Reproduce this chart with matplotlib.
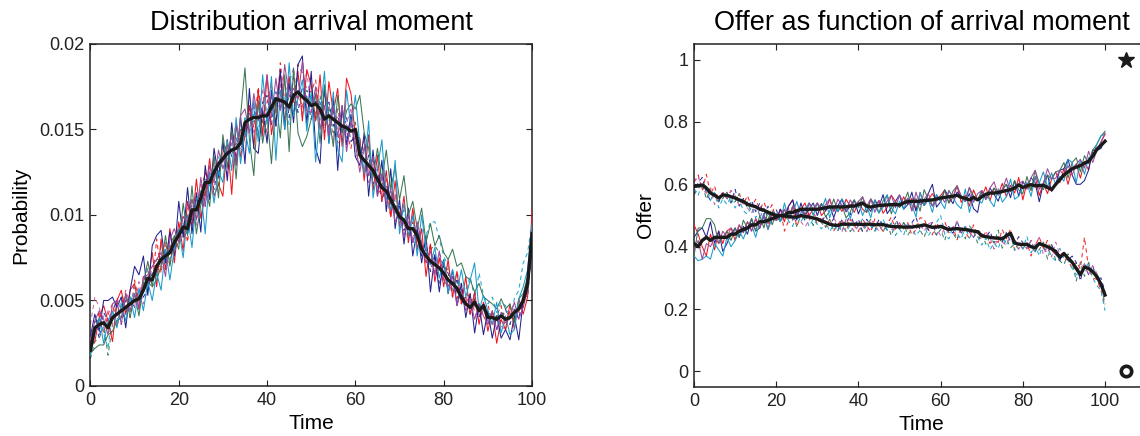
import numpy as np
import matplotlib
matplotlib.use("Agg")
import matplotlib.pyplot as plt

plt.rcParams["font.family"] = ["Liberation Sans", "DejaVu Sans"]

time = np.arange(101)

# ---------------------------------------------------------------
# Arrival-moment distribution (probability values stored in 1e-4)
# ---------------------------------------------------------------
arrival_mean = [
    21, 34, 36, 37, 34, 40, 42, 44, 46, 48,
    50, 51, 56, 63, 62, 70, 74, 76, 78, 84,
    88, 93, 92, 103, 103, 110, 119, 119, 125, 130,
    133, 136, 138, 139, 142, 154, 156, 157, 157, 158,
    158, 163, 168, 167, 166, 163, 170, 172, 169, 167,
    164, 165, 162, 156, 158, 156, 154, 152, 151, 149,
    150, 135, 132, 129, 126, 121, 116, 114, 109, 104,
    99, 97, 92, 92, 88, 80, 76, 73, 71, 69,
    66, 62, 60, 57, 52, 48, 46, 49, 44, 47,
    40, 40, 39, 41, 39, 40, 43, 45, 50, 60,
    89]

arrival_red = [
    23, 26, 40, 47, 38, 26, 50, 56, 42, 56,
    60, 45, 64, 61, 78, 58, 86, 68, 92, 72,
    96, 79, 108, 93, 121, 98, 111, 133, 111, 118,
    111, 144, 112, 153, 134, 146, 164, 139, 173, 146,
    182, 147, 164, 183, 154, 181, 166, 184, 155, 185,
    176, 155, 182, 144, 178, 160, 174, 140, 180, 171,
    146, 145, 120, 147, 114, 135, 108, 126, 99, 120,
    93, 111, 84, 104, 80, 92, 64, 83, 61, 75,
    58, 74, 52, 67, 48, 64, 42, 55, 36, 49,
    32, 44, 25, 39, 33, 48, 33, 51, 42, 52,
    103]

arrival_navy = [
    29, 42, 32, 50, 50, 52, 46, 52, 34, 56,
    70, 65, 76, 53, 82, 88, 91, 72, 90, 76,
    108, 87, 116, 89, 113, 90, 129, 109, 139, 122,
    143, 120, 154, 129, 158, 130, 174, 139, 136, 162,
    142, 173, 152, 185, 150, 177, 154, 188, 193, 153,
    184, 139, 130, 176, 142, 168, 126, 164, 141, 159,
    134, 129, 148, 111, 138, 111, 132, 102, 127, 92,
    109, 83, 104, 76, 92, 72, 88, 55, 77, 55,
    74, 54, 68, 47, 60, 40, 54, 31, 48, 30,
    44, 28, 41, 28, 33, 27, 41, 27, 50, 56,
    80]

arrival_green = [
    19, 22, 24, 24, 30, 32, 38, 40, 54, 40,
    54, 41, 60, 73, 58, 62, 70, 88, 70, 88,
    80, 107, 88, 117, 89, 106, 117, 105, 135, 110,
    147, 128, 150, 121, 158, 186, 144, 123, 167, 142,
    158, 130, 168, 145, 182, 137, 186, 148, 140, 146,
    156, 171, 142, 176, 158, 140, 170, 148, 161, 165,
    162, 170, 148, 139, 122, 139, 120, 138, 115, 128,
    109, 123, 100, 108, 92, 104, 84, 95, 82, 88,
    78, 74, 80, 70, 72, 64, 62, 55, 60, 52,
    50, 48, 45, 51, 45, 48, 37, 51, 54, 64,
    88]

arrival_teal = [
    18, 30, 40, 25, 38, 44, 34, 48, 38, 52,
    40, 57, 44, 61, 50, 66, 56, 80, 62, 80,
    92, 75, 100, 81, 109, 114, 89, 125, 107, 126,
    119, 144, 126, 157, 130, 150, 136, 167, 143, 182,
    154, 181, 132, 173, 150, 189, 158, 168, 179, 149,
    172, 131, 158, 184, 142, 172, 138, 131, 173, 151,
    170, 141, 124, 155, 110, 127, 144, 110, 103, 132,
    89, 107, 88, 100, 76, 100, 80, 71, 81, 63,
    74, 54, 68, 55, 68, 52, 62, 72, 44, 53,
    44, 36, 49, 31, 41, 30, 33, 51, 58, 68,
    95]

arrival_purple = [
    27, 38, 44, 39, 30, 48, 50, 36, 54, 44,
    54, 45, 64, 65, 70, 74, 78, 64, 86, 92,
    84, 99, 96, 109, 97, 122, 105, 129, 119, 138,
    127, 136, 146, 129, 158, 162, 148, 171, 155, 162,
    182, 157, 180, 161, 188, 169, 174, 168, 190, 161,
    160, 175, 150, 164, 146, 164, 146, 164, 137, 155,
    142, 125, 140, 123, 134, 111, 124, 106, 115, 96,
    101, 87, 100, 84, 96, 84, 72, 79, 65, 79,
    62, 58, 64, 47, 56, 44, 50, 39, 48, 41,
    36, 44, 33, 43, 37, 40, 49, 39, 46, 56,
    86]

arrival_red_d = [
    31, 30, 44, 31, 42, 48, 34, 48, 54, 40,
    62, 49, 60, 69, 58, 86, 66, 84, 70, 88,
    92, 99, 84, 109, 97, 114, 125, 109, 131, 118,
    139, 124, 150, 133, 150, 146, 164, 151, 175, 154,
    166, 177, 152, 189, 166, 181, 158, 188, 183, 173,
    172, 179, 158, 172, 150, 168, 142, 160, 149, 139,
    154, 133, 144, 123, 134, 115, 112, 122, 99, 112,
    101, 95, 88, 96, 84, 84, 72, 83, 65, 75,
    70, 58, 64, 51, 60, 48, 54, 43, 40, 45,
    48, 36, 41, 47, 33, 44, 37, 47, 46, 64,
    92]

arrival_navy_d = [
    23, 38, 28, 43, 38, 44, 50, 36, 50, 52,
    46, 57, 52, 57, 66, 66, 82, 72, 82, 80,
    84, 91, 100, 97, 109, 106, 113, 125, 115, 130,
    131, 144, 134, 145, 138, 146, 160, 163, 147, 166,
    170, 153, 172, 161, 178, 157, 182, 160, 175, 169,
    156, 167, 166, 148, 166, 152, 158, 148, 157, 143,
    146, 141, 124, 135, 118, 127, 108, 118, 107, 100,
    105, 91, 96, 84, 92, 76, 80, 67, 77, 59,
    70, 66, 52, 63, 48, 52, 42, 51, 40, 49,
    36, 44, 33, 39, 45, 36, 45, 39, 54, 52,
    84]

arrival_green_d = [
    16, 26, 28, 35, 18, 36, 46, 40, 42, 52,
    50, 53, 60, 61, 58, 74, 74, 68, 82, 88,
    92, 87, 96, 97, 105, 114, 113, 121, 123, 126,
    131, 140, 142, 141, 150, 150, 152, 155, 163, 154,
    154, 169, 164, 173, 162, 169, 166, 172, 163, 173,
    168, 159, 170, 152, 162, 148, 162, 148, 149, 155,
    154, 137, 136, 131, 126, 123, 120, 110, 111, 108,
    97, 103, 92, 88, 88, 84, 80, 80, 82, 78,
    70, 68, 58, 62, 56, 54, 52, 50, 48, 44,
    44, 40, 41, 43, 41, 44, 41, 47, 50, 60,
    88]

arrival_cyan_d = [
    19, 34, 40, 31, 22, 44, 38, 52, 42, 44,
    58, 45, 56, 69, 62, 66, 78, 80, 74, 84,
    88, 95, 88, 105, 101, 106, 121, 117, 127, 134,
    127, 132, 142, 145, 134, 158, 148, 159, 163, 150,
    162, 161, 172, 161, 170, 153, 170, 180, 159, 169,
    168, 155, 166, 160, 150, 160, 150, 160, 145, 155,
    150, 145, 124, 123, 134, 119, 120, 106, 115, 96,
    101, 99, 84, 100, 80, 92, 88, 96, 96, 86,
    76, 70, 56, 67, 56, 56, 64, 51, 66, 53,
    48, 52, 43, 49, 47, 40, 51, 56, 72, 78,
    96]

arrival_pink_d = [
    36, 52, 46, 35, 44, 36, 52, 44, 56, 48,
    46, 61, 48, 57, 70, 70, 70, 84, 78, 80,
    84, 91, 104, 101, 93, 118, 105, 121, 119, 122,
    143, 128, 142, 153, 146, 146, 164, 147, 159, 174,
    146, 169, 160, 177, 162, 177, 186, 164, 163, 185,
    160, 171, 154, 164, 166, 144, 162, 144, 153, 163,
    134, 137, 132, 119, 130, 115, 124, 110, 99, 112,
    97, 95, 96, 84, 92, 80, 84, 71, 69, 67,
    62, 62, 56, 55, 52, 52, 42, 47, 48, 41,
    40, 36, 41, 35, 33, 40, 45, 43, 50, 60,
    86]

# ---------------------------------------------------------------
# Offer as a function of arrival moment
# ---------------------------------------------------------------
offer_up_mean = [
    .41, .40, .42, .43, .42, .43, .43, .43, .43, .44,
    .44, .45, .455, .46, .47, .47, .48, .48, .485, .49,
    .495, .50, .50, .51, .51, .515, .52, .52, .52, .52,
    .52, .522, .525, .527, .527, .528, .527, .528, .53, .53,
    .535, .54, .53, .527, .53, .532, .533, .534, .535, .535,
    .534, .54, .545, .545, .545, .546, .548, .549, .55, .553,
    .556, .558, .56, .562, .565, .558, .555, .55, .558, .55,
    .56, .568, .572, .572, .574, .577, .58, .583, .588, .598,
    .59, .595, .599, .595, .596, .597, .59, .583, .60, .615,
    .63, .64, .65, .655, .66, .668, .674, .69, .712, .725,
    .738]

offer_up_red = [
    .47, .44, .40, .37, .44, .39, .45, .41, .45, .46,
    .42, .47, .445, .48, .45, .49, .46, .50, .455, .51,
    .485, .52, .48, .53, .55, .505, .52, .54, .50, .52,
    .54, .50, .515, .553, .513, .532, .513, .552, .53, .51,
    .545, .52, .51, .553, .53, .548, .507, .526, .565, .545,
    .526, .56, .535, .555, .515, .574, .532, .551, .57, .547,
    .564, .582, .54, .558, .595, .542, .565, .53, .582, .55,
    .56, .592, .548, .588, .566, .603, .56, .597, .572, .622,
    .55, .605, .581, .625, .564, .603, .57, .617, .64, .605,
    .65, .60, .65, .665, .62, .672, .646, .71, .708, .735,
    .76]

offer_up_navy = [
    .43, .45, .46, .43, .48, .41, .45, .385, .41, .44,
    .46, .43, .465, .44, .49, .45, .46, .50, .475, .51,
    .485, .52, .50, .53, .55, .485, .54, .50, .52, .54,
    .50, .538, .515, .533, .493, .532, .553, .512, .53, .55,
    .505, .54, .53, .513, .55, .528, .567, .506, .525, .545,
    .566, .52, .535, .575, .515, .554, .532, .571, .60, .527,
    .544, .582, .56, .538, .575, .562, .545, .57, .522, .51,
    .58, .552, .588, .568, .546, .583, .60, .557, .612, .562,
    .61, .585, .621, .605, .544, .603, .63, .577, .60, .645,
    .65, .68, .63, .60, .60, .612, .646, .71, .708, .715,
    .742]

offer_up_green = [
    .37, .46, .46, .49, .49, .47, .41, .43, .45, .42,
    .46, .43, .485, .46, .49, .45, .50, .46, .515, .47,
    .505, .48, .52, .49, .53, .505, .52, .50, .54, .52,
    .52, .538, .495, .513, .553, .512, .533, .492, .51, .55,
    .525, .56, .51, .553, .53, .508, .547, .566, .505, .545,
    .526, .54, .575, .515, .555, .514, .583, .551, .53, .567,
    .544, .582, .54, .578, .595, .562, .545, .59, .562, .55,
    .58, .552, .568, .588, .566, .583, .60, .577, .612, .582,
    .57, .625, .581, .645, .604, .583, .63, .617, .64, .645,
    .67, .62, .67, .685, .64, .692, .666, .71, .728, .755,
    .77]

offer_up_teal = [
    .37, .355, .36, .37, .36, .41, .39, .37, .43, .40,
    .42, .45, .425, .46, .47, .43, .48, .50, .455, .49,
    .505, .48, .54, .49, .51, .545, .50, .52, .54, .50,
    .54, .518, .555, .493, .533, .512, .553, .532, .49, .53,
    .545, .50, .53, .493, .55, .508, .527, .566, .525, .505,
    .546, .52, .555, .535, .495, .574, .532, .551, .51, .567,
    .544, .522, .58, .558, .535, .522, .585, .51, .562, .55,
    .54, .572, .548, .528, .586, .543, .56, .617, .552, .562,
    .59, .605, .561, .625, .604, .64, .59, .637, .60, .625,
    .61, .68, .67, .605, .68, .632, .686, .69, .728, .755,
    .762]

offer_up_purple = [
    .39, .42, .36, .41, .40, .43, .41, .45, .43, .46,
    .44, .47, .445, .48, .45, .49, .46, .50, .475, .51,
    .485, .50, .52, .49, .53, .505, .52, .50, .54, .52,
    .54, .518, .535, .553, .513, .552, .533, .512, .55, .53,
    .545, .56, .53, .553, .51, .548, .527, .546, .565, .525,
    .566, .54, .555, .515, .575, .534, .552, .571, .53, .547,
    .564, .542, .58, .558, .595, .562, .545, .59, .542, .57,
    .58, .552, .588, .608, .566, .583, .62, .577, .592, .602,
    .61, .585, .621, .645, .584, .603, .65, .617, .62, .645,
    .63, .66, .63, .665, .68, .652, .706, .67, .708, .735,
    .765]

offer_down_mean = [
    .593, .595, .598, .588, .572, .565, .556, .566, .565, .56,
    .556, .55, .545, .536, .532, .528, .52, .517, .51, .505,
    .50, .50, .498, .497, .495, .495, .50, .497, .495, .492,
    .489, .483, .478, .472, .469, .468, .472, .472, .472, .472,
    .472, .471, .472, .472, .47, .471, .471, .467, .465, .464,
    .464, .463, .463, .463, .465, .467, .47, .466, .462, .463,
    .465, .46, .455, .457, .458, .456, .455, .453, .45, .448,
    .435, .432, .43, .428, .427, .425, .435, .443, .412, .408,
    .407, .407, .40, .396, .41, .405, .40, .393, .385, .365,
    .378, .363, .35, .33, .31, .335, .33, .32, .305, .28,
    .245]

offer_down_red = [
    .607, .63, .582, .632, .568, .595, .544, .574, .555, .58,
    .544, .57, .535, .564, .528, .552, .52, .543, .51, .535,
    .48, .52, .45, .483, .525, .465, .50, .523, .485, .508,
    .471, .497, .462, .488, .451, .472, .488, .448, .488, .468,
    .448, .489, .468, .448, .49, .469, .449, .473, .495, .456,
    .476, .457, .477, .437, .455, .493, .49, .454, .438, .477,
    .455, .48, .445, .463, .422, .464, .445, .427, .47, .432,
    .425, .448, .41, .432, .413, .455, .425, .457, .388, .412,
    .393, .413, .37, .404, .43, .395, .42, .387, .375, .375,
    .362, .357, .33, .35, .33, .43, .33, .30, .295, .26,
    .21]

offer_down_navy = [
    .567, .605, .622, .572, .548, .575, .544, .574, .555, .54,
    .584, .53, .555, .524, .548, .512, .54, .503, .53, .495,
    .52, .48, .502, .523, .485, .505, .52, .483, .505, .488,
    .491, .477, .502, .468, .491, .452, .488, .468, .508, .468,
    .488, .449, .488, .468, .45, .489, .469, .453, .475, .496,
    .456, .477, .457, .477, .495, .453, .47, .454, .478, .437,
    .475, .46, .465, .443, .482, .444, .465, .447, .43, .452,
    .445, .428, .45, .412, .433, .415, .445, .417, .408, .432,
    .413, .393, .42, .384, .41, .395, .38, .407, .375, .355,
    .382, .357, .37, .35, .29, .345, .31, .34, .295, .30,
    .255]

offer_down_green = [
    .567, .585, .602, .552, .588, .555, .544, .554, .575, .54,
    .544, .57, .535, .544, .508, .532, .50, .523, .49, .515,
    .50, .48, .502, .483, .505, .465, .50, .483, .505, .468,
    .491, .477, .462, .488, .451, .472, .448, .488, .448, .468,
    .468, .449, .468, .488, .45, .469, .449, .473, .435, .476,
    .456, .477, .437, .457, .475, .453, .43, .474, .458, .437,
    .455, .42, .465, .443, .422, .464, .425, .467, .45, .412,
    .445, .408, .43, .412, .453, .395, .425, .397, .408, .392,
    .393, .413, .40, .384, .39, .415, .36, .407, .355, .355,
    .342, .377, .35, .29, .35, .305, .35, .32, .295, .28,
    .215]

offer_down_cyan = [
    .587, .565, .602, .592, .548, .575, .524, .554, .535, .56,
    .524, .55, .515, .504, .528, .492, .52, .483, .51, .475,
    .50, .48, .522, .483, .465, .505, .48, .503, .465, .488,
    .471, .457, .482, .448, .471, .452, .468, .448, .468, .448,
    .468, .489, .448, .468, .45, .469, .489, .453, .475, .436,
    .456, .437, .477, .457, .435, .453, .47, .434, .458, .477,
    .50, .44, .425, .463, .442, .424, .465, .427, .45, .432,
    .405, .428, .39, .412, .393, .435, .405, .437, .388, .412,
    .393, .433, .38, .404, .37, .415, .40, .367, .355, .395,
    .362, .357, .33, .31, .31, .325, .35, .30, .275, .26,
    .195]

offer_down_pink = [
    .607, .625, .582, .572, .588, .535, .564, .574, .555, .58,
    .564, .53, .555, .524, .508, .532, .50, .523, .51, .495,
    .48, .50, .482, .523, .485, .505, .48, .463, .485, .508,
    .491, .477, .482, .468, .491, .472, .448, .488, .468, .448,
    .468, .469, .448, .488, .47, .449, .469, .473, .455, .456,
    .476, .457, .457, .477, .455, .473, .45, .474, .478, .457,
    .435, .46, .445, .463, .482, .444, .465, .447, .43, .452,
    .425, .448, .43, .392, .433, .415, .405, .437, .428, .392,
    .413, .393, .42, .404, .43, .375, .40, .367, .415, .375,
    .382, .357, .35, .33, .33, .345, .31, .34, .315, .28,
    .235]

# Reference points at the right edge of the offer panel
marker_time = 105
star_offer = 1.0
circle_offer = 0.0

# ---------------------------------------------------------------
# Styling
# ---------------------------------------------------------------
solid_colors = ["#f0141e", "#22228f", "#3b7754", "#1a9bcc", "#9a4a9a"]
dashed_colors = ["#f02828", "#2e2ea6", "#3c8060", "#22a8d2", "#cc66a6"]
black = "#1a1a1a"
thin = 0.75
thick = 2.4
dash_pattern = (4, 3.5)

fig = plt.figure(figsize=(11.4, 4.36), dpi=100)
ax1 = fig.add_axes([0.0793, 0.1147, 0.3874, 0.7844])
ax2 = fig.add_axes([0.6088, 0.1124, 0.3991, 0.7867])

scale = 1e-4
solid_left = [arrival_red, arrival_navy, arrival_green, arrival_teal, arrival_purple]
dashed_left = [arrival_red_d, arrival_navy_d, arrival_green_d, arrival_cyan_d, arrival_pink_d]

for vals, col in zip(dashed_left, dashed_colors):
    ax1.plot(time, np.asarray(vals) * scale, color=col, lw=thin,
             dashes=dash_pattern, zorder=2)
for vals, col in zip(solid_left, solid_colors):
    ax1.plot(time, np.asarray(vals) * scale, color=col, lw=thin, zorder=3)
ax1.plot(time, np.asarray(arrival_mean) * scale, color=black, lw=thick, zorder=5)

solid_right = [offer_up_red, offer_up_navy, offer_up_green, offer_up_teal, offer_up_purple]
dashed_right = [offer_down_red, offer_down_navy, offer_down_green,
                offer_down_cyan, offer_down_pink]

for vals, col in zip(dashed_right, dashed_colors):
    ax2.plot(time, vals, color=col, lw=thin, dashes=dash_pattern, zorder=2)
for vals, col in zip(solid_right, solid_colors):
    ax2.plot(time, vals, color=col, lw=thin, zorder=3)
ax2.plot(time, offer_up_mean, color=black, lw=thick, zorder=5)
ax2.plot(time, offer_down_mean, color=black, lw=thick, zorder=5)
ax2.plot([marker_time], [star_offer], marker="*", color=black, ms=12,
         mec=black, zorder=6, clip_on=False)
ax2.plot([marker_time], [circle_offer], marker="o", mfc="white", mec=black,
         mew=2.6, ms=7.5, zorder=6, clip_on=False)

# Axes cosmetics
ax1.set_xlim(0, 100)
ax1.set_ylim(0, 0.02)
ax1.set_xticks([0, 20, 40, 60, 80, 100])
ax1.set_yticks([0, 0.005, 0.01, 0.015, 0.02])
ax1.set_yticklabels(["0", "0.005", "0.01", "0.015", "0.02"])
ax1.set_xlabel("Time", fontsize=15, labelpad=4)
ax1.set_ylabel("Probability", fontsize=15, labelpad=7)
ax1.set_title("Distribution arrival moment", fontsize=19.5, pad=10)

ax2.set_xlim(0, 110.7)
ax2.set_ylim(-0.05, 1.05)
ax2.set_xticks([0, 20, 40, 60, 80, 100])
ax2.set_yticks([0, 0.2, 0.4, 0.6, 0.8, 1.0])
ax2.set_yticklabels(["0", "0.2", "0.4", "0.6", "0.8", "1"])
ax2.set_xlabel("Time", fontsize=15, labelpad=4)
ax2.set_ylabel("Offer", fontsize=15, labelpad=6)
ax2.set_title("Offer as function of arrival moment", fontsize=19.5, pad=10)

for ax in (ax1, ax2):
    ax.tick_params(direction="in", top=True, right=True, length=4,
                   width=0.8, labelsize=13, pad=4, colors="#222222")
    for sp in ax.spines.values():
        sp.set_linewidth(1.1)
        sp.set_color("#222222")

fig.savefig("out.png", dpi=100)
